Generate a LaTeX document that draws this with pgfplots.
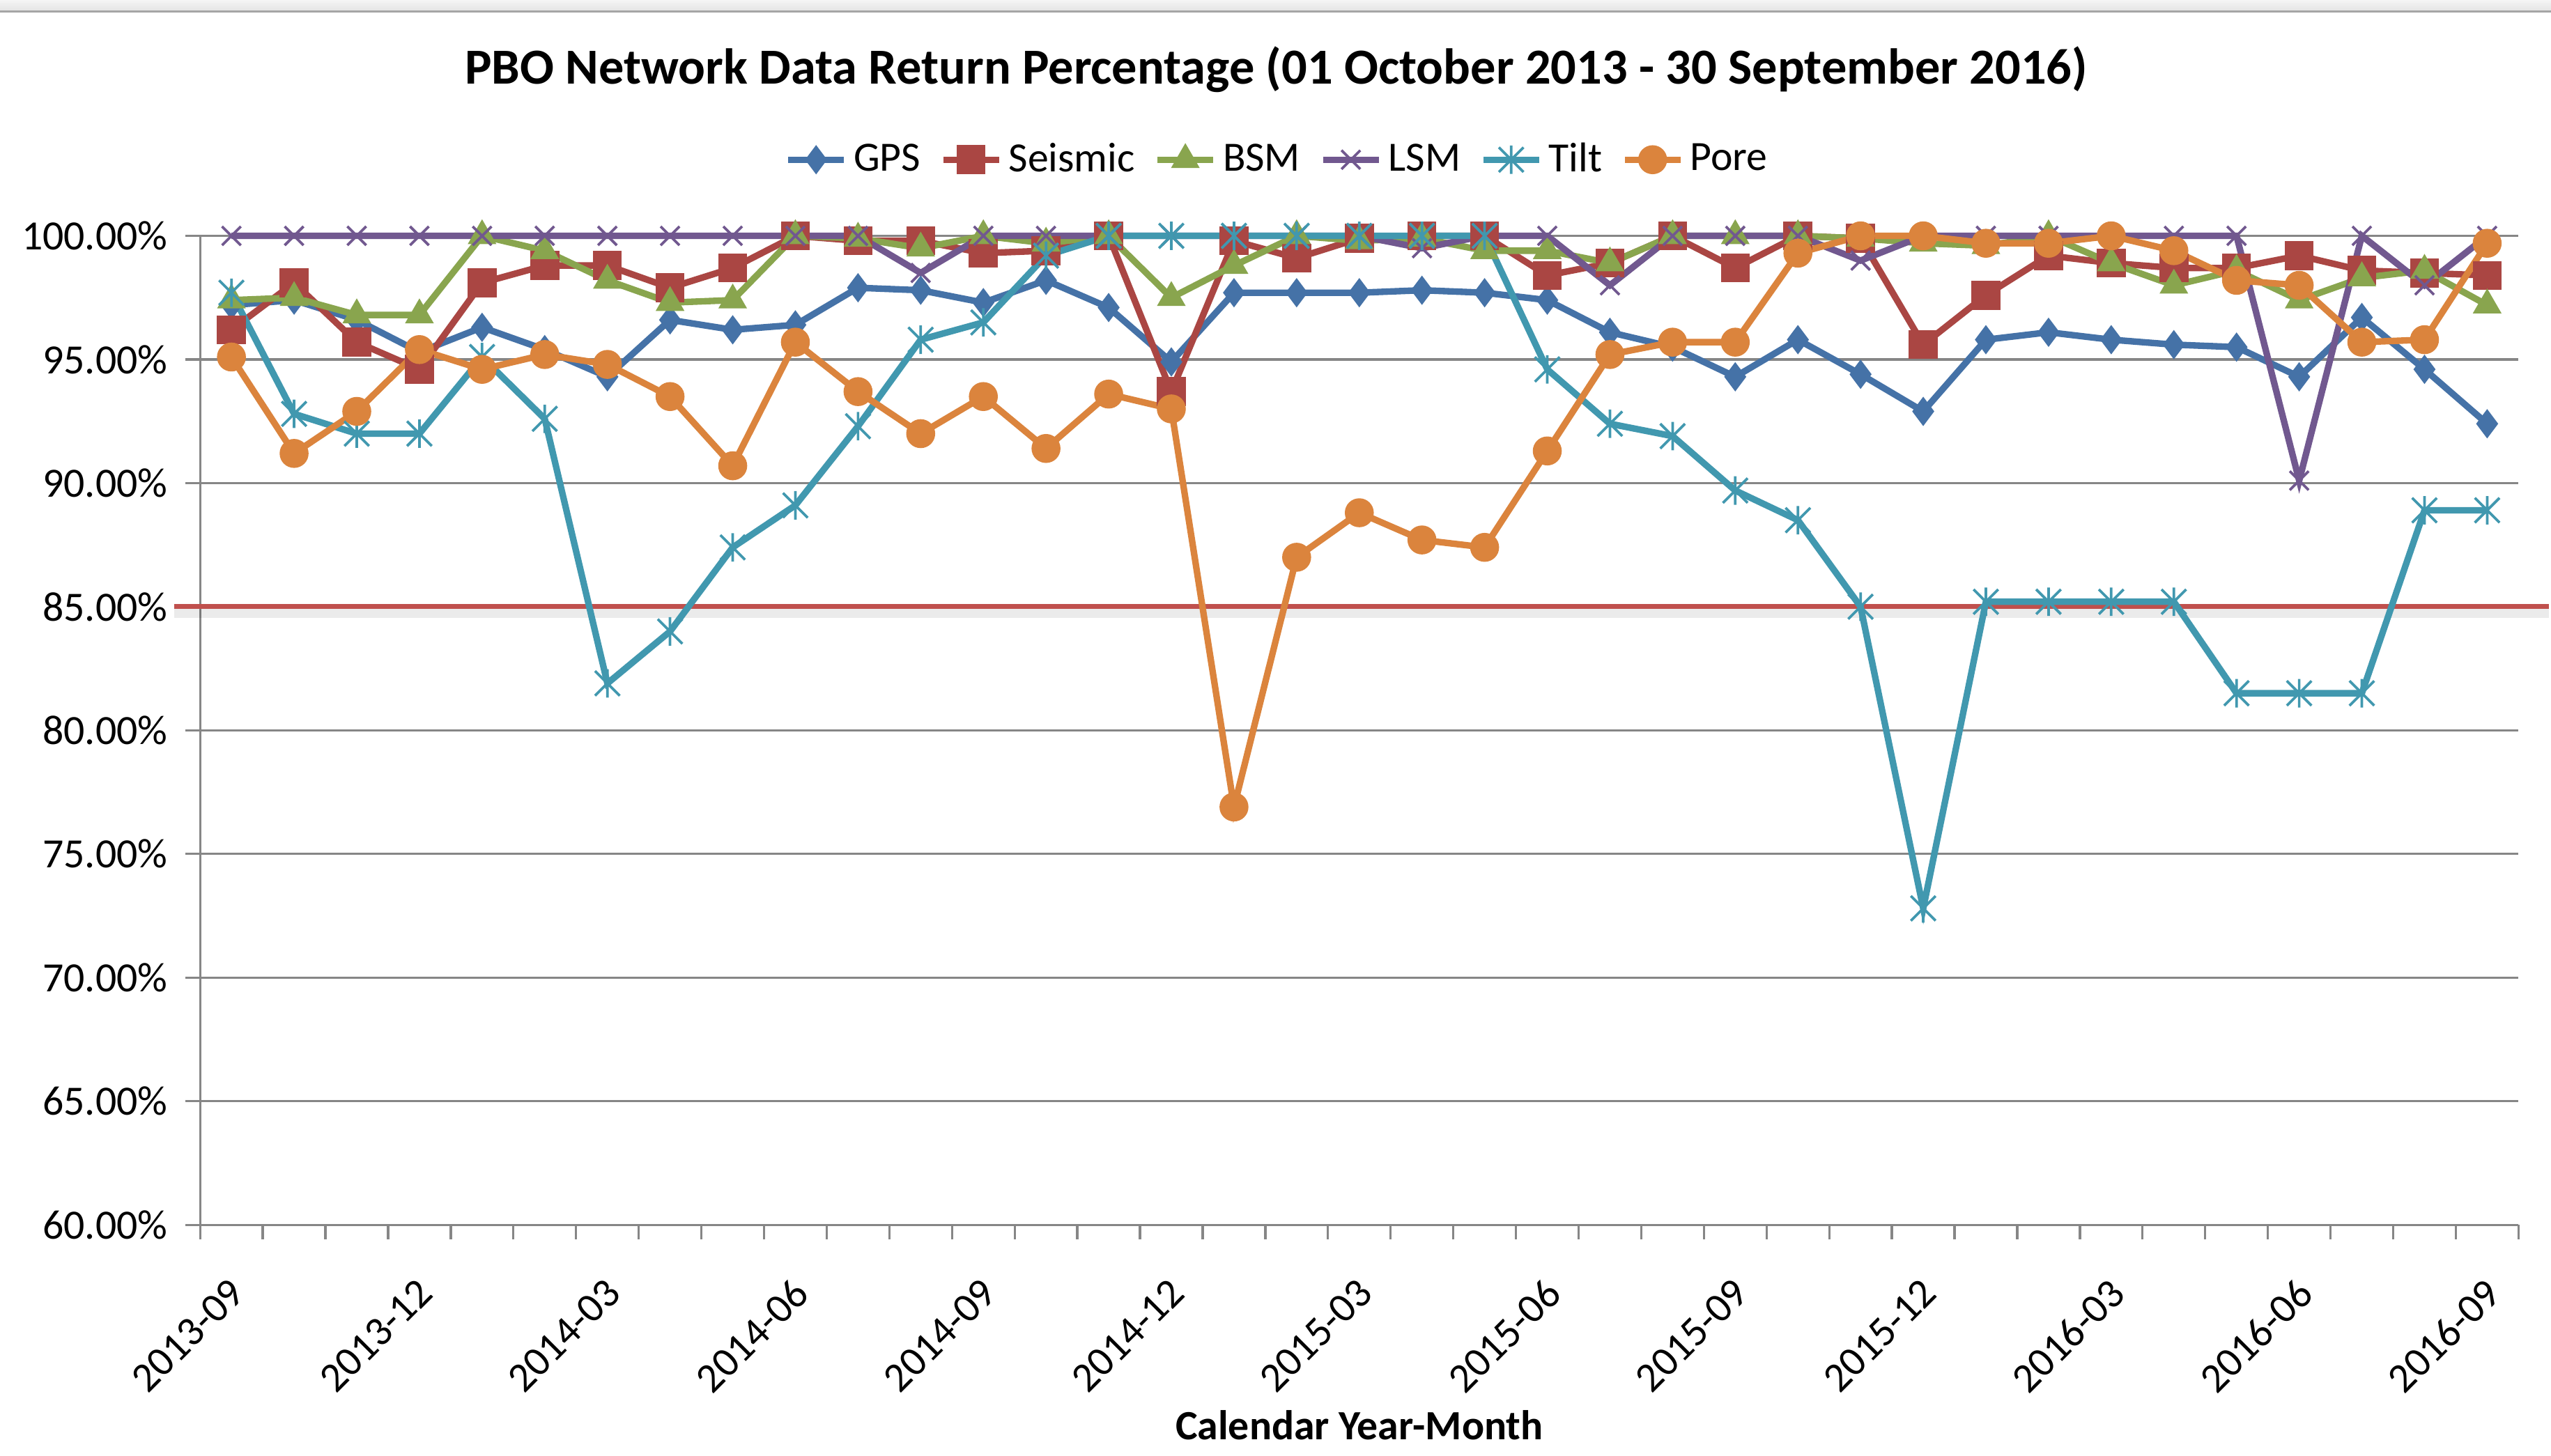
\documentclass[border=0pt]{standalone}
\usepackage{fontspec}
\setmainfont{Carlito}
\usepackage{pgfplots}
\pgfplotsset{compat=1.18}
\definecolor{cgps}{HTML}{4572A7}
\definecolor{cseis}{HTML}{AA4643}
\definecolor{cbsm}{HTML}{89A54E}
\definecolor{clsm}{HTML}{71588F}
\definecolor{ctilt}{HTML}{4198AF}
\definecolor{cpore}{HTML}{DB843D}
\definecolor{cref}{HTML}{C0504D}
\definecolor{gridgray}{HTML}{868686}
\pgfdeclareplotmark{xstar}{%
  \pgfpathmoveto{\pgfqpoint{-\pgfplotmarksize}{-\pgfplotmarksize}}%
  \pgfpathlineto{\pgfqpoint{\pgfplotmarksize}{\pgfplotmarksize}}%
  \pgfpathmoveto{\pgfqpoint{-\pgfplotmarksize}{\pgfplotmarksize}}%
  \pgfpathlineto{\pgfqpoint{\pgfplotmarksize}{-\pgfplotmarksize}}%
  \pgfpathmoveto{\pgfqpoint{0pt}{-1.15\pgfplotmarksize}}%
  \pgfpathlineto{\pgfqpoint{0pt}{1.15\pgfplotmarksize}}%
  \pgfusepathqstroke}
\newcommand\fs{\fontsize{12.8pt}{15pt}\selectfont}
\begin{document}
\begin{tikzpicture}
\path[use as bounding box] (0,0) rectangle (784pt,447.5pt);
\shade[top color=gray!8, bottom color=gray!22] (0,444pt) rectangle (784pt,447.5pt);
\draw[gray!70, line width=0.6pt] (0,444pt) -- (784pt,444pt);
\begin{axis}[
  at={(61.5pt,71pt)}, anchor=south west,
  scale only axis, width=712.5pt, height=304pt,
  xmin=-0.5, xmax=36.5, ymin=60, ymax=100,
  clip=false,
  axis x line*=bottom, axis y line*=left,
  axis line style={gridgray, line width=0.7pt, -},
  every tick/.style={gridgray, line width=0.7pt},
  every major x tick/.append style={draw=none},
  tick align=outside,
  major tick length=4.5pt,
  minor tick length=4.5pt,
  xtick={0,3,...,36},
  minor xtick={-0.5,0.5,...,36.5},
  xticklabels={2013-09,2013-12,2014-03,2014-06,2014-09,2014-12,2015-03,2015-06,2015-09,2015-12,2016-03,2016-06,2016-09},
  xticklabel style={font=\fs, xshift=-1.2pt, yshift=-6.4pt, rotate=45, anchor=north east},
  ytick={60,65,...,100},
  ymajorgrids,
  grid style={gridgray, line width=0.7pt},
  /pgf/number format/assume math mode=true,
  yticklabel={\pgfmathprintnumber[fixed,fixed zerofill,precision=2]{\tick}\%},
  yticklabel style={font=\fs, xshift=-2pt},
  xlabel={Calendar Year-Month},
  xlabel style={at={(axis description cs:0.5,-0.2023)}, anchor=center, font=\bfseries\fs},
  legend columns=6,
  legend style={at={(0.4656,1.077)}, anchor=center, draw=none, fill=none, font=\fs,
     /tikz/every even column/.append style={column sep=4pt}},
  legend cell align=left,
  every axis plot/.append style={line width=2pt},
]
\node[font=\bfseries\fontsize{15.5pt}{18pt}\selectfont, anchor=center] at (axis description cs:0.4642,1.168) {PBO Network Data Return Percentage (01 October 2013 - 30 September 2016)};

\addplot[forget plot, draw=black, opacity=0.08, line width=3pt, yshift=-2pt] coordinates {(-0.91,85) (36.98,85)};
\addplot[forget plot, cref, line width=1.5pt] coordinates {(-0.91,85) (36.98,85)};

\addplot[cgps, mark=diamond*, mark size=4.1pt, mark options={fill=cgps, draw=cgps, line width=0.5pt}] coordinates {
(0,97.2)(1,97.4)(2,96.6)(3,95.3)(4,96.3)(5,95.4)(6,94.3)(7,96.6)(8,96.2)(9,96.4)
(10,97.9)(11,97.8)(12,97.3)(13,98.2)(14,97.1)(15,94.9)(16,97.7)(17,97.7)(18,97.7)(19,97.8)
(20,97.7)(21,97.4)(22,96.1)(23,95.5)(24,94.3)(25,95.8)(26,94.4)(27,92.9)(28,95.8)(29,96.1)
(30,95.8)(31,95.6)(32,95.5)(33,94.3)(34,96.7)(35,94.6)(36,92.4)};
\addlegendentry{GPS}

\addplot[cseis, mark=square*, mark size=4.2pt, mark options={fill=cseis, draw=cseis, line width=0.5pt}] coordinates {
(0,96.2)(1,98.1)(2,95.7)(3,94.6)(4,98.1)(5,98.8)(6,98.8)(7,97.9)(8,98.7)(9,100)
(10,99.8)(11,99.8)(12,99.3)(13,99.4)(14,100)(15,93.7)(16,99.8)(17,99.1)(18,99.9)(19,100)
(20,100)(21,98.4)(22,98.9)(23,100)(24,98.7)(25,100)(26,99.9)(27,95.6)(28,97.6)(29,99.2)
(30,98.9)(31,98.7)(32,98.7)(33,99.2)(34,98.6)(35,98.5)(36,98.4)};
\addlegendentry{Seismic}

\addplot[cbsm, mark=triangle*, mark size=4.6pt, mark options={fill=cbsm, draw=cbsm, line width=0.5pt}] coordinates {
(0,97.4)(1,97.5)(2,96.8)(3,96.8)(4,100)(5,99.4)(6,98.2)(7,97.3)(8,97.4)(9,100)
(10,99.9)(11,99.5)(12,100)(13,99.7)(14,100)(15,97.5)(16,98.8)(17,100)(18,99.8)(19,99.9)
(20,99.4)(21,99.4)(22,98.9)(23,100)(24,100)(25,100)(26,99.9)(27,99.7)(28,99.6)(29,100)
(30,98.9)(31,98.0)(32,98.6)(33,97.4)(34,98.3)(35,98.6)(36,97.2)};
\addlegendentry{BSM}

\addplot[clsm, mark=x, mark size=4.1pt, mark options={draw=clsm, line width=0.8pt}] coordinates {
(0,100)(1,100)(2,100)(3,100)(4,100)(5,100)(6,100)(7,100)(8,100)(9,100)
(10,100)(11,98.5)(12,100)(13,100)(14,100)(15,100)(16,100)(17,100)(18,100)(19,99.5)
(20,100)(21,100)(22,98.0)(23,100)(24,100)(25,100)(26,99.0)(27,100)(28,100)(29,100)
(30,100)(31,100)(32,100)(33,90.1)(34,100)(35,98.0)(36,100)};
\addlegendentry{LSM}

\addplot[ctilt, mark=xstar, mark size=3.8pt, mark options={draw=ctilt, line width=0.8pt}] coordinates {
(0,97.7)(1,92.8)(2,92.0)(3,92.0)(4,95.1)(5,92.6)(6,81.9)(7,84.0)(8,87.4)(9,89.1)
(10,92.3)(11,95.8)(12,96.5)(13,99.2)(14,100)(15,100)(16,100)(17,100)(18,100)(19,100)
(20,100)(21,94.6)(22,92.4)(23,91.9)(24,89.7)(25,88.5)(26,85.0)(27,72.8)(28,85.2)(29,85.2)
(30,85.2)(31,85.2)(32,81.5)(33,81.5)(34,81.5)(35,88.9)(36,88.9)};
\addlegendentry{Tilt}

\addplot[cpore, mark=*, mark size=4.2pt, mark options={fill=cpore, draw=cpore, line width=0.5pt}] coordinates {
(0,95.1)(1,91.2)(2,92.9)(3,95.4)(4,94.6)(5,95.2)(6,94.8)(7,93.5)(8,90.7)(9,95.7)
(10,93.7)(11,92.0)(12,93.5)(13,91.4)(14,93.6)(15,93.0)(16,76.9)(17,87.0)(18,88.8)(19,87.7)
(20,87.4)(21,91.3)(22,95.2)(23,95.7)(24,95.7)(25,99.3)(26,100)(27,100)(28,99.7)(29,99.7)
(30,100)(31,99.4)(32,98.2)(33,98.0)(34,95.7)(35,95.8)(36,99.7)};
\addlegendentry{Pore}
\end{axis}
\end{tikzpicture}
\end{document}
